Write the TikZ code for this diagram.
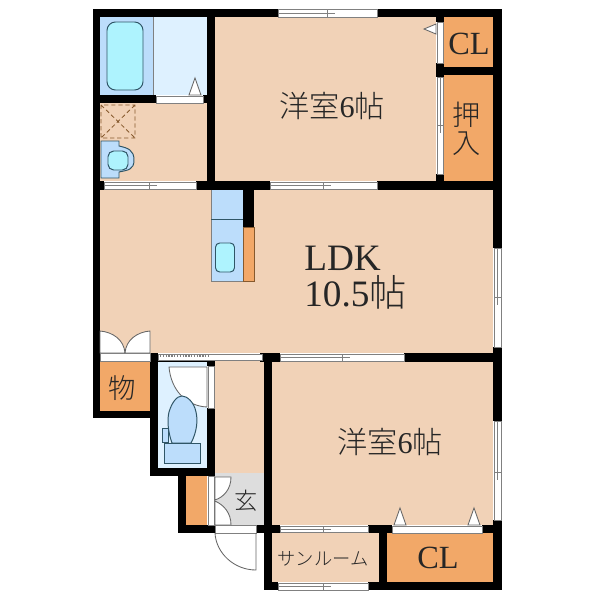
\documentclass[tikz,border=0pt]{standalone}
\usepackage{fontspec}
\usepackage{xcolor}
\setmainfont{Liberation Serif}
\newfontfamily\cjk[UprightFont=* Light]{Noto Sans CJK JP}
\definecolor{roomcol}{HTML}{F1D2B7}
\definecolor{storecol}{HTML}{F2A868}
\definecolor{bathcol}{HTML}{DEF1FF}
\definecolor{bluecol}{HTML}{BCDDFB}
\definecolor{tubcol}{HTML}{AEF3FE}
\definecolor{hallcol}{HTML}{DDDDDD}
\definecolor{edgecol}{HTML}{2F5566}
% windows: horizontal {x1}{x2}{xm}{y1}{y2}, vertical {x1}{x2}{y1}{y2}{ym}
\newcommand{\hwin}[5]{\draw[sash] (#1,#4) rectangle (#2,#5);
	\draw[sash] (#1,{(#4+#5)/2}) -- (#3+8,{(#4+#5)/2}) (#3,#4) -- (#3,#5);}
\newcommand{\vwin}[5]{\draw[sash] (#1,#3) rectangle (#2,#4);
	\draw[sash] ({(#1+#2)/2},#3) -- ({(#1+#2)/2},#5+8) (#1,#5) -- (#2,#5);}
\begin{document}
\begin{tikzpicture}[x=0.025cm,y=-0.025cm,line join=miter]
	\tikzset{wall/.style={fill=black,draw=none},
		sash/.style={fill=white,draw=gray,line width=0.7pt},
		leaf/.style={draw=gray!80!black,line width=0.6pt,fill=white},
		fixture/.style={draw=edgecol,line width=0.7pt,fill=bluecol},
		lbl/.style={text=black!85,inner sep=0pt},
		big/.style={lbl,font=\fontsize{21.5}{21.5}\selectfont},
		ldk/.style={lbl,anchor=west,font=\fontsize{26.5}{26.5}\selectfont},
		mid/.style={lbl,font=\fontsize{23}{23}\selectfont}}
	\useasboundingbox (0,0) rectangle (600,600);
	% rooms
	\fill[roomcol] (215,17) rectangle (436,181);
	\fill[roomcol] (100,103) rectangle (207,181);
	\fill[roomcol] (100,190) rectangle (493,353);
	\fill[roomcol] (272,362) rectangle (493,525);
	\fill[roomcol] (215,361) rectangle (264,473);
	\fill[roomcol] (272,533) rectangle (379,582);
	\fill[storecol] (444,17) rectangle (493,67);
	\fill[storecol] (444,75) rectangle (493,181);
	\fill[storecol] (100,361) rectangle (150,411);
	\fill[storecol] (186,476) rectangle (207,525);
	\fill[storecol] (387,533) rectangle (493,582);
	\fill[hallcol] (215,473) rectangle (264,525);
	\fill[bathcol] (153,17) rectangle (207,95);
	\fill[bathcol] (158,361) rectangle (207,468);
	% walls
	\fill[wall] (93,9) rectangle (278,17);
	\fill[wall] (377,9) rectangle (502,17);
	\fill[wall] (93,9) rectangle (100,418);
	\fill[wall] (493,9) rectangle (502,248);
	\fill[wall] (493,347) rectangle (502,421);
	\fill[wall] (493,520) rectangle (502,590);
	\fill[wall] (207,17) rectangle (215,190);
	\fill[wall] (100,95) rectangle (156,103);
	\fill[wall] (203,95) rectangle (207,103);
	\fill[wall] (100,181) rectangle (104,190);
	\fill[wall] (196,181) rectangle (270,190);
	\fill[wall] (377,181) rectangle (502,190);
	\fill[wall] (436,17) rectangle (444,22);
	\fill[wall] (436,63) rectangle (444,77);
	\fill[wall] (436,174) rectangle (444,190);
	\fill[wall] (436,67) rectangle (493,75);
	\fill[wall] (243,190) rectangle (254,227);
	\fill[wall] (260,353) rectangle (280,362);
	\fill[wall] (404,353) rectangle (502,362);
	\fill[wall] (264,353) rectangle (272,590);
	\fill[wall] (150,353) rectangle (158,476);
	\fill[wall] (158,360) rectangle (207,362);
	\fill[wall] (93,411) rectangle (150,418);
	\fill[wall] (150,468) rectangle (215,476);
	\fill[wall] (207,361) rectangle (215,366);
	\fill[wall] (207,408) rectangle (215,476);
	\fill[wall] (178,476) rectangle (186,533);
	\fill[wall] (178,525) rectangle (215,533);
	\fill[wall] (256,525) rectangle (280,533);
	\fill[wall] (368,525) rectangle (392,533);
	\fill[wall] (482,525) rectangle (502,533);
	\fill[wall] (379,533) rectangle (387,590);
	\fill[wall] (368,582) rectangle (502,590);
	\fill[wall] (264,582) rectangle (278,590);
	% windows and sashes
	\hwin{278}{377}{327}{9.5}{17}
	\hwin{104}{196}{149}{182}{189}
	\hwin{270}{377}{323}{182}{189}
	\hwin{280}{404}{342}{354}{361}
	\hwin{280}{368}{323}{526}{532}
	\hwin{278}{368}{323}{583}{590}
	\vwin{437}{443}{77}{174}{125}
	\vwin{494}{501}{248}{347}{297}
	\vwin{494}{501}{421}{520}{472}
	\draw[sash] (156,96) rectangle (203,103);
	\draw[sash] (437,22) rectangle (443,63);
	\draw[sash] (392,526) rectangle (482,533);
	\draw[sash] (100,353) rectangle (150,361);
	\draw[sash] (158,354) rectangle (262,360);
	\draw[gray,densely dotted,line width=1pt] (160,356) -- (210,356);
	\draw[sash] (208,366) rectangle (214,408);
	\draw[sash] (208,476) rectangle (214,525);
	\draw[sash] (215,525) rectangle (256,533);
	% bath
	\fill[bluecol] (100,17) rectangle (153,95);
	\draw[gray,line width=0.7pt] (153,17) -- (153,95);
	\draw[fixture,fill=tubcol,rounded corners=6pt] (107,22) rectangle (143,90);
	\draw[leaf] (189,95) -- (195,78) -- (201,95) -- cycle;
	% wash room
	\draw[brown!70!black,densely dashed,line width=0.6pt] (101,105) rectangle (135,138) (101,105) -- (135,138) (135,105) -- (101,138);
	\draw[fixture] (101,141) -- (119,141) -- (119,146) .. controls (128,148) and (134,150) .. (134,160) .. controls (134,170) and (128,170) .. (119,172) -- (119,178) -- (101,178) -- cycle;
	\draw[fixture,fill=tubcol,rounded corners=4pt] (108,151) rectangle (128,170);
	% kitchen
	\fill[bluecol] (211,190) rectangle (243,281);
	\draw[gray,line width=0.7pt] (211,190) -- (211,281) -- (243,281);
	\draw[edgecol,line width=0.5pt] (211,219) -- (243,219);
	\draw[fill=storecol,draw=brown!70!black,line width=0.6pt] (243,227) rectangle (254,281);
	\draw[fixture,fill=tubcol,rounded corners=3pt] (215.5,243) rectangle (234.5,272);
	% doors of LDK store
	\draw[leaf] (100,331) .. controls (113,332) and (124,340) .. (125,353) -- (100,353) -- cycle;
	\draw[leaf] (150,331) .. controls (137,332) and (126,340) .. (125,353) -- (150,353) -- cycle;
	% wc
	\draw[leaf] (169,367) -- (207,367) -- (207,407) .. controls (186,406) and (171,390) .. (169,367) -- cycle;
	\draw[fixture] (172,443) .. controls (168,432) and (167,420) .. (169,412) .. controls (172,402) and (177,396) .. (182,396) .. controls (187,396) and (194,402) .. (196,412) .. controls (198,420) and (197,432) .. (191,443) -- cycle;
	\draw[fixture] (164,443) rectangle (200,463);
	\draw[fixture] (162,428) rectangle (168,442);
	% entrance
	\draw[leaf] (231,477) .. controls (231,489) and (224,497) .. (215,500) -- (215,477) -- cycle;
	\draw[leaf] (231,525) .. controls (231,513) and (224,505) .. (215,501) -- (215,525) -- cycle;
	\draw[leaf,fill=none] (215,533) .. controls (216,553) and (234,570) .. (256,570) -- (256,533);
	% fixtures by the closets
	\draw[leaf] (424,29) -- (436,24) -- (436,34) -- cycle;
	\draw[leaf] (394,525) -- (400,508) -- (406,525) -- cycle;
	\draw[leaf] (468,525) -- (474,508) -- (480,525) -- cycle;
	% labels
	\node[big] (roomA) at (332,106) {{\cjk 洋室}6{\cjk 帖}};
	\node[big] (roomB) at (390,442) {{\cjk 洋室}6{\cjk 帖}};
	\node[ldk] (ldkA) at (304,258) {LDK};
	\node[ldk] (ldkB) at (304,292) {10.5{\cjk 帖}};
	\node[mid] (clA) at (469,44) {CL};
	\node[mid] (clB) at (438,558) {CL};
	\node[lbl,font=\cjk\fontsize{20}{20}\selectfont] (oshiA) at (467,115) {押};
	\node[lbl,font=\cjk\fontsize{20}{20}\selectfont] (oshiB) at (467,144) {入};
	\node[lbl,font=\cjk\fontsize{19.5}{19.5}\selectfont] (mono) at (122,388) {物};
	\node[lbl,font=\cjk\fontsize{16.5}{16.5}\selectfont] (gen) at (246,501) {玄};
	\node[lbl,font=\cjk\fontsize{13}{13}\selectfont] (sun) at (323,559) {サンルーム};
\end{tikzpicture}
\end{document}
